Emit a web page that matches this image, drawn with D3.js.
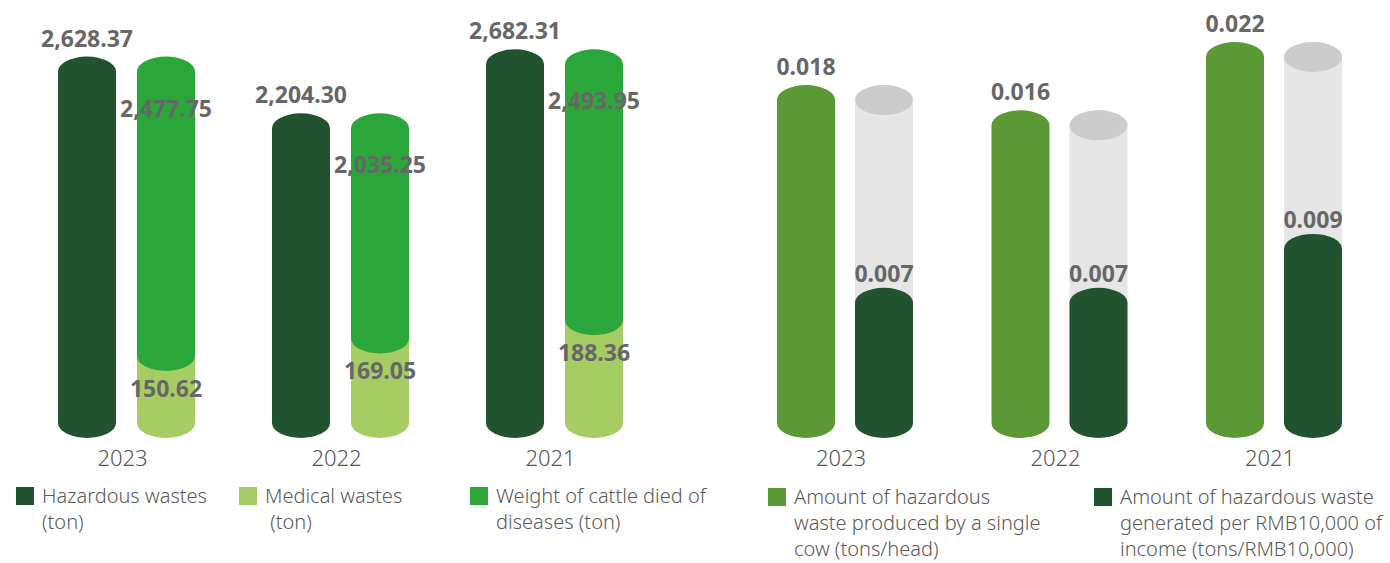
<!DOCTYPE html>
<html>
<head>
<meta charset="utf-8">
<script src="https://cdn.jsdelivr.net/npm/d3@7"></script>
<style>
  html, body { margin: 0; padding: 0; background: #ffffff; }
  svg { display: block; }
  .val { font-family: "Noto Sans", "Open Sans", sans-serif; font-weight: 700; font-size: 23px; fill: #676767; }
  .year { font-family: "Noto Sans", "Open Sans", sans-serif; font-weight: 300; font-size: 22px; fill: #555555; }
  .legend { font-family: "Noto Sans", "Open Sans", sans-serif; font-weight: 300; font-size: 20px; fill: #5a5a5a; }
</style>
</head>
<body>
<svg id="chart" width="1390" height="563"></svg>
<script>
// ---- data -------------------------------------------------------------
const years = ["2023", "2022", "2021"];

// Left panel (tons)
const hazardousWastes = [2628.37, 2204.30, 2682.31];
const medicalWastes   = [150.62, 169.05, 188.36];
const cattleDied      = [2477.75, 2035.25, 2493.95];

// Right panel
const wastePerCow    = [0.018, 0.016, 0.022];   // tons/head
const wastePerIncome = [0.007, 0.007, 0.009];   // tons/RMB10,000

const legendLeft = [
  ["Hazardous wastes", "(ton)"],
  ["Medical wastes", " (ton)"],
  ["Weight of cattle died of", "diseases (ton)"]
];
const legendRight = [
  ["Amount of hazardous", "waste produced by a single", "cow (tons/head)"],
  ["Amount of hazardous waste", "generated per RMB10,000 of", "income (tons/RMB10,000)"]
];

// ---- styling ----------------------------------------------------------
const C = {
  dark: "#21532f",
  medical: "#a6cc64",
  cattle: "#2ba63b",
  cow: "#5b9934",
  track: "#e6e6e6",
  trackTop: "#cbcccb"
};

const svg = d3.select("#chart");
const baseY = 423;      // centre of the bottom ellipse of every cylinder
const barW = 58;
const gap = 21;
const ry = 15;

// cylinder outline: rounded top and bottom (half ellipses)
function cylinder(x, yTop, yBottom, w) {
  const rx = w / 2;
  return `M${x},${yTop}A${rx},${ry} 0 0 1 ${x + w},${yTop}` +
         `L${x + w},${yBottom}A${rx},${ry} 0 0 1 ${x},${yBottom}Z`;
}

// ---- scales -----------------------------------------------------------
const xLeft = d3.scalePoint().domain(years).range([126.5, 554.5]);
const xRight = d3.scalePoint().domain(years).range([845, 1274]);

// total tonnage heights
const yTon = d3.scaleLinear().domain([0, 2700]).range([baseY, baseY - 361]);
// medical-waste segment has its own (expanded) scale
const hMed = d3.scaleLinear().domain([80, 200]).range([0, 114]);
// intensity values on a log scale
const yRate = d3.scaleLog().domain([0.004, 0.022]).range([baseY, baseY - 366]);

const fmt = d3.format(",.2f");
const fmt3 = d3.format(".3f");

// ---- left panel -------------------------------------------------------
const left = svg.append("g");
years.forEach((yr, i) => {
  const c = xLeft(yr);
  const xDark = c - barW - gap / 2;
  const xStack = c + gap / 2;

  const yHaz = yTon(hazardousWastes[i]);
  left.append("path").attr("d", cylinder(xDark, yHaz, baseY, barW)).attr("fill", C.dark);

  const yMedTop = baseY - hMed(medicalWastes[i]);
  const yStackTop = yTon(medicalWastes[i] + cattleDied[i]);
  left.append("path").attr("d", cylinder(xStack, yMedTop, baseY, barW)).attr("fill", C.medical);
  left.append("path").attr("d", cylinder(xStack, yStackTop, yMedTop, barW)).attr("fill", C.cattle);

  left.append("text").attr("class", "val").attr("text-anchor", "middle")
    .attr("x", xDark + barW / 2).attr("y", yHaz - ry - 10).text(fmt(hazardousWastes[i]));
  left.append("text").attr("class", "val").attr("text-anchor", "middle")
    .attr("x", xStack + barW / 2).attr("y", yStackTop + 45).text(fmt(cattleDied[i]));
  left.append("text").attr("class", "val").attr("text-anchor", "middle")
    .attr("x", xStack + barW / 2).attr("y", yMedTop + 41).text(fmt(medicalWastes[i]));

  left.append("text").attr("class", "year").attr("text-anchor", "middle")
    .attr("x", c - 4).attr("y", 466).text(yr);
});

// ---- right panel ------------------------------------------------------
const right = svg.append("g");
years.forEach((yr, i) => {
  const c = xRight(yr);
  const xCow = c - barW - 10;
  const xInc = c + 10;

  const yCow = yRate(wastePerCow[i]);
  right.append("path").attr("d", cylinder(xCow, yCow, baseY, barW)).attr("fill", C.cow);

  // background track with visible top face, as tall as the neighbouring bar
  right.append("path").attr("d", cylinder(xInc, yCow, baseY, barW)).attr("fill", C.track);
  right.append("ellipse").attr("cx", xInc + barW / 2).attr("cy", yCow)
    .attr("rx", barW / 2).attr("ry", ry).attr("fill", C.trackTop);

  const yInc = yRate(wastePerIncome[i]);
  right.append("path").attr("d", cylinder(xInc, yInc, baseY, barW)).attr("fill", C.dark);

  right.append("text").attr("class", "val").attr("text-anchor", "middle")
    .attr("x", xCow + barW / 2).attr("y", yCow - ry - 10).text(fmt3(wastePerCow[i]));
  right.append("text").attr("class", "val").attr("text-anchor", "middle")
    .attr("x", xInc + barW / 2).attr("y", yInc - ry - 6).text(fmt3(wastePerIncome[i]));

  right.append("text").attr("class", "year").attr("text-anchor", "middle")
    .attr("x", c - 4).attr("y", 466).text(yr);
});

// ---- legends ----------------------------------------------------------
function legendItem(g, x, y, color, lines) {
  g.append("rect").attr("x", x).attr("y", y).attr("width", 18).attr("height", 18).attr("fill", color);
  const t = g.append("text").attr("class", "legend").attr("x", x + 26).attr("y", y + 16)
    .attr("xml:space", "preserve");
  lines.forEach((ln, k) => {
    t.append("tspan").attr("x", x + 26).attr("dy", k === 0 ? 0 : 26).text(ln);
  });
}
const lg = svg.append("g");
legendItem(lg, 16, 487, C.dark, legendLeft[0]);
legendItem(lg, 239, 487, C.medical, legendLeft[1]);
legendItem(lg, 470, 487, C.cattle, legendLeft[2]);
legendItem(lg, 768, 488, C.cow, legendRight[0]);
legendItem(lg, 1094, 488, C.dark, legendRight[1]);
</script>
</body>
</html>
